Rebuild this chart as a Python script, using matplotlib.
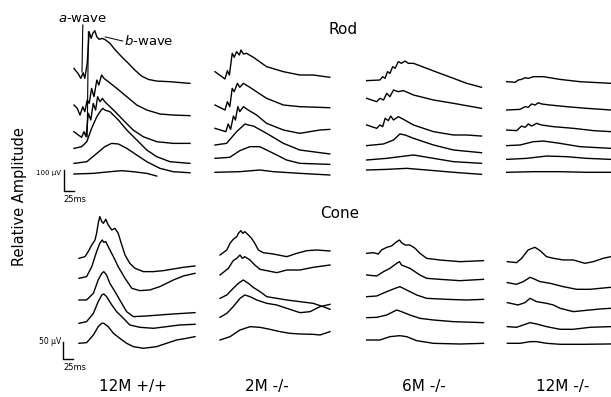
import numpy as np
import matplotlib.pyplot as plt

W, H = 611, 397
MS_PER_PX = 2.5          # 25 ms scale bar is ~10 px
ROD_UV_PER_PX = 4.8      # 100 uV bar ~21 px
CONE_UV_PER_PX = 3.0     # 50 uV bar ~16 px

groups = ["12M +/+", "2M -/-", "6M -/-", "12M -/-"]

# each trace: (ms, uV) relative to its own start; offsets stack traces (uV)
rod_wt12 = [
    [(0, 0), (11, -27), (17, -48), (23, -21), (27, -48), (33, 24), (38, 176), (43, 144), (47, 168),
     (52, 181), (57, 152), (63, 139), (69, 144), (77, 139), (90, 120), (102, 91), (119, 56),
     (136, 24), (152, -8), (169, -37), (186, -53), (207, -61), (240, -64), (290, -72)],
    [(0, 0), (8, -16), (15, -48), (22, -8), (27, -32), (33, 24), (38, 8), (44, 80), (50, 40),
     (57, 120), (62, 96), (69, 144), (75, 128), (86, 112), (107, 80), (132, 40), (157, 0),
     (182, -24), (215, -43), (248, -48), (290, -51)],
    [(0, 0), (11, -16), (19, -27), (25, 0), (30, -24), (36, 88), (42, 56), (48, 136), (54, 104),
     (59, 168), (65, 144), (71, 160), (77, 144), (90, 120), (107, 88), (127, 48), (148, 8),
     (173, -24), (207, -48), (248, -56), (290, -56)],
    [(0, 0), (19, 8), (32, 32), (44, 96), (57, 152), (65, 176), (72, 192), (77, 184), (90, 176),
     (111, 136), (132, 88), (157, 40), (182, -8), (207, -40), (240, -64), (290, -72)],
    [(0, 0), (32, 8), (57, 48), (77, 80), (94, 96), (111, 93), (132, 72), (157, 40), (182, 8),
     (215, -24), (248, -40), (290, -45)],
    [(0, 0), (48, 3), (90, 11), (119, 16), (148, 11), (182, 3), (207, -10)],
]
rod_wt12_offset = [507, 331, 203, 123, 51, 0]

rod_ko2 = [
    [(0, 0), (25, -35), (31, 5), (36, -16), (43, 88), (48, 69), (54, 96), (61, 80), (65, 104),
     (71, 85), (79, 88), (96, 69), (129, 24), (171, 0), (212, -16), (246, -16), (287, -27)],
    [(0, 0), (25, -24), (31, 16), (37, -8), (43, 80), (48, 64), (56, 104), (62, 85), (71, 104),
     (87, 85), (129, 32), (171, 0), (212, -8), (287, -13)],
    [(0, 0), (27, -16), (33, 21), (39, -5), (46, 59), (51, 40), (57, 104), (62, 80), (71, 104),
     (83, 88), (104, 64), (129, 24), (171, -8), (212, -24), (262, -8), (287, -5)],
    [(0, 0), (29, 8), (54, 64), (75, 101), (83, 96), (96, 91), (129, 56), (171, 8), (212, -24),
     (287, -43)],
    [(0, 0), (37, 5), (62, 37), (87, 56), (112, 56), (146, 24), (179, -8), (212, -24), (287, -29)],
    [(0, 0), (62, 3), (112, 11), (146, 3), (212, -5), (287, -13)],
]
rod_ko2_offset = [483, 323, 211, 131, 67, 0]

rod_ko6 = [
    [(0, 0), (33, 3), (40, 19), (46, 11), (52, 43), (58, 35), (65, 67), (71, 59), (79, 91),
     (87, 83), (96, 94), (104, 83), (117, 83), (150, 59), (183, 35), (217, 11), (250, -13),
     (287, -32)],
    [(0, 0), (25, -16), (33, 0), (42, -8), (50, 24), (58, 8), (67, 40), (79, 32), (92, 37),
     (117, 16), (167, -8), (217, -24), (287, -48)],
    [(0, 0), (25, -16), (33, 0), (40, -8), (46, 32), (54, 21), (60, 43), (67, 24), (79, 40),
     (92, 27), (117, 0), (167, -32), (217, -48), (250, -48), (287, -53)],
    [(0, 0), (42, 8), (67, 27), (83, 56), (96, 51), (117, 35), (167, 3), (217, -21), (287, -34)],
    [(0, 0), (50, 8), (83, 16), (117, 24), (167, 8), (217, -8), (287, -16)],
    [(0, 0), (50, 3), (100, 8), (150, 0), (217, -11), (287, -21)],
]
rod_ko6_offset = [429, 344, 216, 117, 48, 0]

rod_ko12 = [
    [(0, 0), (21, -3), (29, 8), (37, 11), (46, 19), (54, 16), (67, 24), (92, 24), (133, 11),
     (183, 0), (261, -8), (292, -11)],
    [(0, 0), (33, 3), (46, 16), (54, 13), (62, 29), (71, 24), (79, 35), (87, 29), (108, 24),
     (150, 16), (200, 8), (261, 0), (292, -3)],
    [(0, 0), (25, -3), (37, 19), (46, 13), (54, 29), (62, 19), (75, 32), (87, 24), (117, 16),
     (167, 8), (217, -3), (261, -8), (292, -10)],
    [(0, 0), (33, 3), (67, 19), (92, 22), (133, 11), (183, -5), (261, -13), (292, -16)],
    [(0, 0), (50, 5), (100, 16), (150, 13), (200, 5), (261, 0), (292, 0)],
    [(0, 0), (67, 3), (133, 3), (200, 0), (261, 0), (292, 0)],
]
rod_ko12_offset = [435, 299, 203, 128, 62, 0]

cone_wt12 = [
    [(0, 0), (15, 5), (23, 20), (32, 40), (40, 55), (44, 75), (48, 105), (52, 125), (57, 110),
     (61, 105), (67, 117), (73, 100), (82, 85), (90, 90), (98, 75), (107, 40), (115, 10),
     (127, -15), (140, -30), (161, -40), (186, -40), (211, -37), (236, -32), (261, -27), (290, -23)],
    [(0, 0), (19, 5), (32, 35), (44, 80), (52, 105), (58, 115), (62, 108), (67, 110), (73, 95),
     (86, 65), (98, 35), (115, 0), (132, -30), (152, -37), (177, -35), (202, -25), (236, -5),
     (261, 7), (290, 15)],
    [(0, 0), (19, 0), (36, 20), (48, 60), (57, 80), (62, 85), (69, 75), (77, 50), (90, 25),
     (102, 0), (119, -35), (136, -50), (169, -48), (202, -45), (236, -42), (290, -38)],
    [(0, 0), (19, 5), (36, 30), (48, 65), (57, 85), (62, 88), (69, 80), (82, 55), (94, 35),
     (111, 15), (127, -5), (152, -12), (186, -15), (219, -10), (252, -5), (290, -3)],
    [(0, 0), (19, 2), (36, 25), (48, 50), (57, 60), (62, 60), (73, 50), (86, 30), (102, 15),
     (119, 0), (136, -10), (161, -15), (194, -10), (219, 0), (244, 10), (269, 15), (290, 20)],
]
cone_wt12_offset = [255, 195, 130, 60, 0]

cone_ko2 = [
    [(0, 0), (17, 15), (25, 35), (33, 47), (42, 55), (46, 65), (52, 73), (57, 65), (62, 70),
     (71, 60), (79, 50), (87, 35), (96, 15), (108, 7), (133, 3), (167, -5), (192, 5), (217, 13),
     (242, 15), (275, 12)],
    [(0, 0), (21, 20), (33, 43), (42, 50), (50, 60), (56, 50), (62, 55), (75, 45), (87, 30),
     (100, 17), (117, 13), (142, 7), (167, 15), (200, 15), (233, 23), (275, 30)],
    [(0, 0), (17, 10), (33, 30), (46, 45), (58, 55), (71, 45), (83, 33), (100, 20), (117, 5),
     (142, 0), (167, -5), (200, -10), (233, -15), (258, -25), (275, -33)],
    [(0, 0), (17, 12), (33, 32), (50, 57), (62, 67), (75, 62), (92, 52), (117, 42), (142, 37),
     (167, 27), (200, 14), (225, 17), (250, 32), (275, 39)],
    [(0, 0), (25, 10), (50, 30), (75, 40), (100, 38), (125, 32), (150, 25), (175, 20), (200, 18),
     (233, 17), (250, 15), (275, 25)],
]
cone_ko2_offset = [255, 195, 125, 68, 0]

cone_ko6 = [
    [(0, 0), (17, 2), (29, -2), (37, 10), (50, 18), (62, 22), (75, 35), (82, 40), (87, 32),
     (96, 25), (108, 25), (121, 15), (133, 0), (150, -15), (183, -20), (233, -25), (292, -22)],
    [(0, 0), (25, -3), (42, 10), (58, 20), (75, 35), (82, 40), (87, 30), (108, 20), (133, 0),
     (150, -10), (183, -13), (233, -17), (292, -13)],
    [(0, 0), (25, 2), (50, 15), (71, 25), (83, 30), (100, 20), (125, 5), (150, -5), (200, -8),
     (250, -10), (292, -8)],
    [(0, 0), (25, 1), (50, 8), (75, 23), (87, 18), (108, 8), (133, -2), (167, -7), (217, -12),
     (292, -15)],
    [(0, 0), (33, 0), (58, 10), (83, 13), (100, 10), (125, -2), (167, -10), (233, -12), (292, -10)],
]
cone_ko6_offset = [260, 195, 130, 67, 0]

cone_ko12 = [
    [(0, 0), (23, -3), (36, 10), (52, 35), (69, 43), (82, 33), (98, 15), (115, 10), (140, 5),
     (165, 5), (194, -5), (215, 0), (240, 10), (259, 15), (290, 20)],
    [(0, 0), (23, -5), (40, 3), (57, 16), (69, 10), (82, 3), (107, -2), (140, -12), (173, -20),
     (207, -20), (259, -14), (290, -12)],
    [(0, 0), (27, -7), (44, 0), (57, 13), (73, 3), (98, -2), (115, -7), (132, -17), (165, -27),
     (207, -22), (232, -19), (259, -17), (290, -16)],
    [(0, 0), (23, -2), (40, 5), (57, 12), (73, 8), (98, 0), (132, -8), (165, -8), (207, -2),
     (259, 0), (290, 0)],
    [(0, 0), (32, 0), (57, 5), (73, 5), (98, 0), (132, -3), (190, -3), (259, -2), (290, -2)],
]
cone_ko12_offset = [245, 182, 122, 50, 0]

rod_bar = (25, 100)   # ms, uV
cone_bar = (25, 50)

fig = plt.figure(figsize=(W / 100, H / 100), dpi=100)
fig.patch.set_facecolor('white')


def add_panel(x0, base, uv_per_px, ylo, yhi, t_max=300):
    # x0, base: pixel position of t=0 and of the bottom trace baseline
    bottom_px = base + (-ylo) / uv_per_px
    height_px = (yhi - ylo) / uv_per_px
    ax = fig.add_axes([x0 / W, 1 - bottom_px / H, t_max / MS_PER_PX / W, height_px / H])
    ax.set_xlim(0, t_max)
    ax.set_ylim(ylo, yhi)
    ax.axis('off')
    return ax


def draw_traces(ax, traces, offsets):
    for tr, off in zip(traces, offsets):
        t, v = zip(*tr)
        ax.plot(t, np.array(v) + off, color='black', lw=1.0, clip_on=False,
                solid_joinstyle='round')


rod_panels = [(74, 174.0, rod_wt12, rod_wt12_offset),
              (215, 172.3, rod_ko2, rod_ko2_offset),
              (366.7, 170.0, rod_ko6, rod_ko6_offset),
              (506.7, 172.3, rod_ko12, rod_ko12_offset)]
cone_panels = [(79, 343.3, cone_wt12, cone_wt12_offset),
               (220, 340.0, cone_ko2, cone_ko2_offset),
               (366.7, 340.0, cone_ko6, cone_ko6_offset),
               (507.3, 343.3, cone_ko12, cone_ko12_offset)]

rod_axes = []
for x0, base, traces, offs in rod_panels:
    ax = add_panel(x0, base, ROD_UV_PER_PX, -150, 750)
    draw_traces(ax, traces, offs)
    rod_axes.append(ax)

cone_axes = []
for x0, base, traces, offs in cone_panels:
    ax = add_panel(x0, base, CONE_UV_PER_PX, -100, 420)
    draw_traces(ax, traces, offs)
    cone_axes.append(ax)

# scale bars
ax = rod_axes[0]
ax.plot([-25, -25, -25 + rod_bar[0]], [-82 + rod_bar[1], -82, -82], color='black',
        lw=1.0, clip_on=False)
ax = cone_axes[0]
ax.plot([-40, -40, -40 + cone_bar[0]], [-47 + cone_bar[1], -47, -47], color='black',
        lw=1.0, clip_on=False)

# a-wave / b-wave pointers (rod, 12M +/+)
ax = rod_axes[0]
ax.plot([22, 20], [715, 490], color='black', lw=0.8, clip_on=False)
ax.plot([36, 33], [682, 178], color='black', lw=0.8, clip_on=False)
ax.plot([78, 122], [658, 638], color='black', lw=0.7, clip_on=False)


def ftext(x, y, s, **kw):
    fig.text(x / W, 1 - y / H, s, **kw)


ftext(83, 19, r'$\it{a}$-wave', ha='center', va='center', fontsize=9.5)
ftext(124, 41, r'$\it{b}$-wave', ha='left', va='center', fontsize=9.5)
ftext(343, 29, 'Rod', ha='center', va='center', fontsize=11)
ftext(340, 214, 'Cone', ha='center', va='center', fontsize=11)
ftext(20, 197, 'Relative Amplitude', ha='center', va='center', rotation=90, fontsize=10.5)
ftext(61, 173, '100 \u00b5V', ha='right', va='center', fontsize=5)
ftext(63, 199, '25ms', ha='left', va='center', fontsize=6)
ftext(61, 342, '50 \u00b5V', ha='right', va='center', fontsize=5.5)
ftext(63, 368, '25ms', ha='left', va='center', fontsize=6)

label_x = [133, 267, 424, 563]
for x, g in zip(label_x, groups):
    ftext(x, 387, g, ha='center', va='center', fontsize=11)

fig.savefig('out.png', dpi=100)
